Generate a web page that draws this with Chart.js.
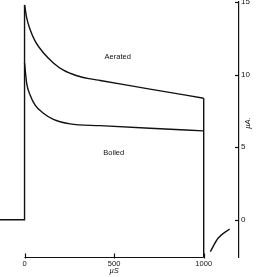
<!DOCTYPE html>
<html>
<head>
<meta charset="utf-8">
<script src="https://cdn.jsdelivr.net/npm/chart.js@4/dist/chart.umd.min.js"></script>
<style>
html,body{margin:0;padding:0;background:#fff;}
canvas{display:block;}
</style>
</head>
<body>
<canvas id="c" width="258" height="277"></canvas>
<script>
// ---- data (time in µs, current in µA) ----
const baselineT  = [-137, 0, 0];
const baselineUA = [0, 0, 14.8];
const aeratedT  = [0, 12, 31, 59, 105, 161, 217, 292, 360, 422, 700, 1000];
const aeratedUA = [14.8, 13.9, 13.1, 12.3, 11.5, 10.8, 10.3, 9.92, 9.72, 9.59, 9.0, 8.37];
const dropT  = [1000, 1000];
const dropUA = [8.37, -2.57];
const boiledT  = [0, 12, 31, 59, 105, 161, 254, 422, 700, 1000];
const boiledUA = [10.8, 9.4, 8.6, 7.9, 7.34, 6.92, 6.6, 6.48, 6.3, 6.12];
const tailT  = [1037, 1080, 1145];
const tailUA = [-2.2, -1.28, -0.64];
const xTicks = [0, 500, 1000];
const yTicks = [0, 5, 10, 15];
const labels = [
  {text: 'Aerated', t: 520, v: 11.2},
  {text: 'Boiled',  t: 498, v: 4.6}
];
const xTitle = 'µS';
const yTitle = 'µA.';

const pts = (t, v) => t.map((x, i) => ({x: x, y: v[i]}));
const FONT = 'Liberation Sans, Arial, sans-serif';

const ds = (t, v, smooth) => ({
  data: pts(t, v),
  borderColor: '#111',
  borderWidth: 1.4,
  pointRadius: 0,
  fill: false,
  clip: false,
  tension: 0,
  cubicInterpolationMode: smooth ? 'monotone' : 'default'
});

const decor = {
  id: 'decor',
  afterDraw(chart) {
    const ctx = chart.ctx;
    const xs = chart.scales.x, ys = chart.scales.y;
    const ca = chart.chartArea;
    ctx.save();
    ctx.strokeStyle = '#111';
    ctx.lineWidth = 1.2;
    const by = ca.bottom + 0.5;
    ctx.beginPath();
    ctx.moveTo(xs.getPixelForValue(xTicks[0]), by);
    ctx.lineTo(xs.getPixelForValue(xTicks[xTicks.length - 1]), by);
    ctx.stroke();
    xTicks.forEach(t => {
      const px = Math.round(xs.getPixelForValue(t)) + 0.5;
      ctx.beginPath(); ctx.moveTo(px, by - 4); ctx.lineTo(px, by + 1); ctx.stroke();
    });
    const rx = ca.right;
    yTicks.forEach(v => {
      const py = Math.round(ys.getPixelForValue(v)) + 0.5;
      ctx.beginPath(); ctx.moveTo(rx - 4, py); ctx.lineTo(rx, py); ctx.stroke();
    });
    ctx.fillStyle = '#111';
    ctx.font = '7.5px ' + FONT;
    ctx.textAlign = 'center';
    ctx.textBaseline = 'middle';
    labels.forEach(l => {
      ctx.fillText(l.text, xs.getPixelForValue(l.t), ys.getPixelForValue(l.v));
    });
    ctx.font = 'italic 7.5px ' + FONT;
    ctx.fillText(xTitle, xs.getPixelForValue(500), 270.5);
    ctx.translate(248, 123);
    ctx.rotate(-Math.PI / 2);
    ctx.fillText(yTitle, 0, 0);
    ctx.restore();
  }
};

new Chart(document.getElementById('c'), {
  type: 'line',
  data: {
    datasets: [
      ds(baselineT, baselineUA, false),
      ds(aeratedT, aeratedUA, true),
      ds(dropT, dropUA, false),
      ds(boiledT, boiledUA, true),
      ds(tailT, tailUA, true)
    ]
  },
  options: {
    responsive: false,
    animation: false,
    layout: {padding: {top: 2, left: 0, right: 0, bottom: 0}},
    plugins: {legend: {display: false}, tooltip: {enabled: false}},
    scales: {
      x: {
        type: 'linear',
        min: -137, max: 1197,
        afterBuildTicks: s => { s.ticks = xTicks.map(v => ({value: v})); },
        afterFit: s => { s.height = 20; s.paddingLeft = 0; s.paddingRight = 0; },
        grid: {display: false, drawTicks: false},
        border: {display: false},
        ticks: {color: '#111', padding: 2, maxRotation: 0, autoSkip: false,
                callback: v => String(v),
                font: {family: FONT, size: 7.5}}
      },
      y: {
        type: 'linear',
        position: 'right',
        min: -2.57, max: 15,
        afterBuildTicks: s => { s.ticks = yTicks.map(v => ({value: v})); },
        afterFit: s => { s.width = 19; s.paddingTop = 0; s.paddingBottom = 0; },
        grid: {drawOnChartArea: false, drawTicks: false},
        border: {display: true, color: '#111', width: 1.2},
        ticks: {color: '#111', padding: 2, callback: v => String(v),
                font: {family: FONT, size: 8}}
      }
    }
  },
  plugins: [decor]
});
</script>
</body>
</html>
